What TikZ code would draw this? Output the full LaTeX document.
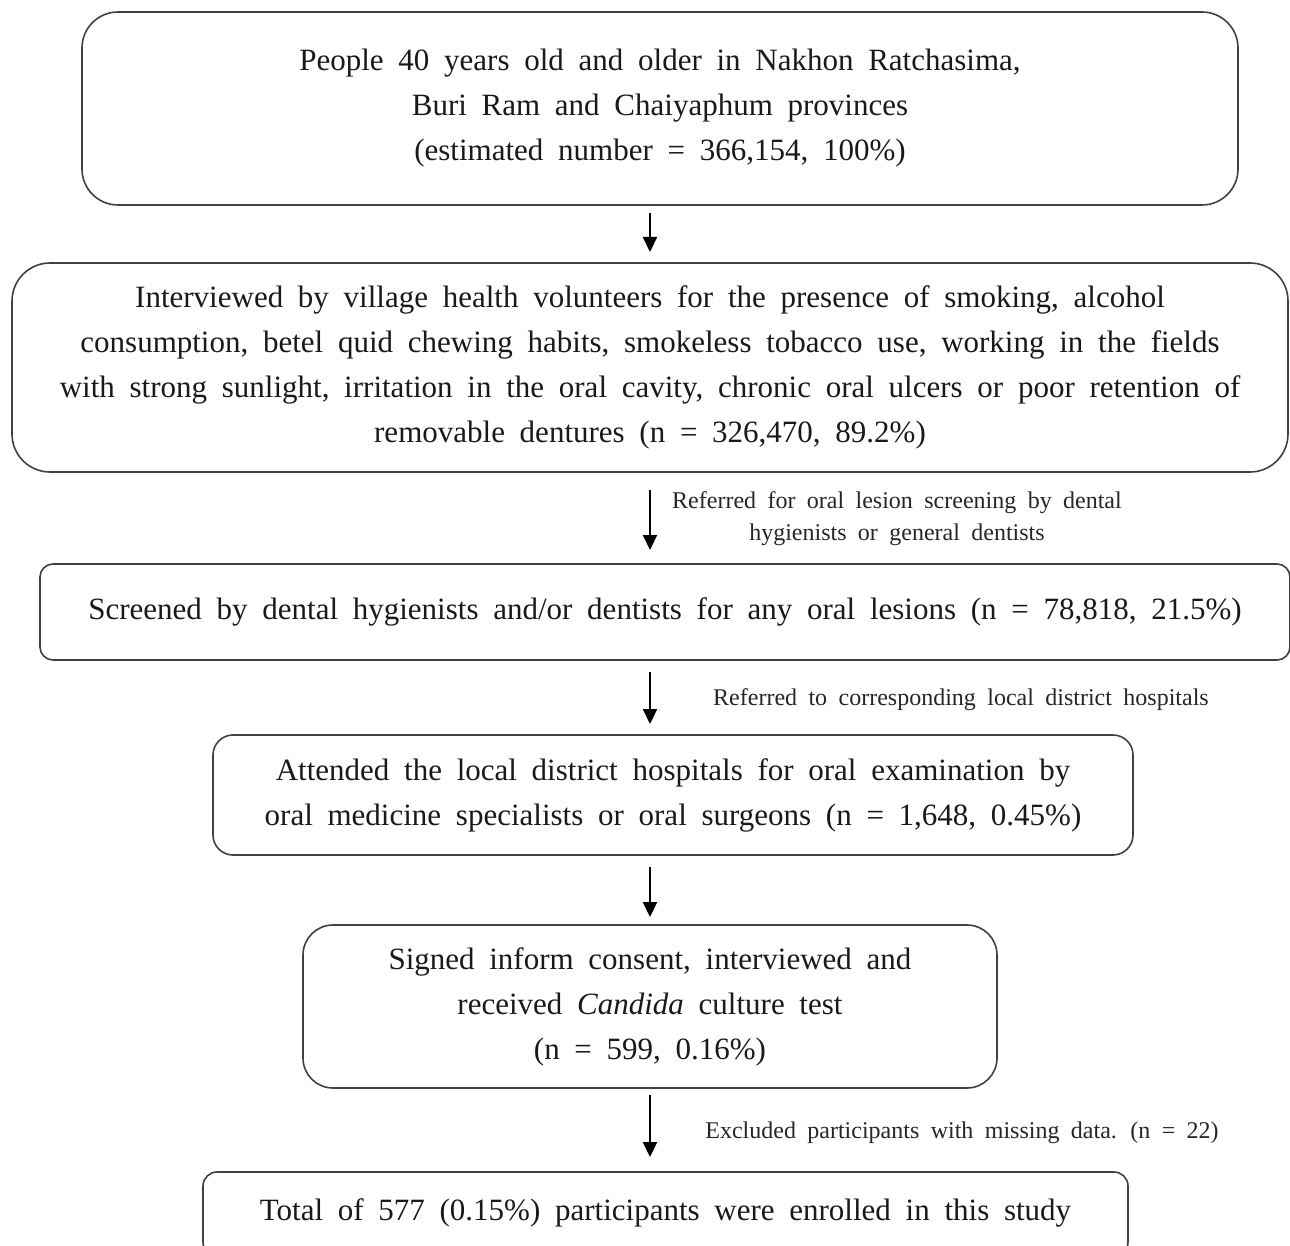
\documentclass[tikz,border=0pt]{standalone}
\usepackage{fontspec}
\setmainfont[WordSpace=1.9]{Liberation Serif}
\usetikzlibrary{arrows.meta}
\begin{document}
\begin{tikzpicture}[x=1pt,y=-1pt,
  box/.style={draw=black!75, line width=1.6pt, align=center, inner sep=0pt,
    font=\fontsize{31}{45}\selectfont, text=black!90},
  lbl/.style={align=center, inner sep=0pt, font=\fontsize{24}{32}\selectfont, text=black!85},
  arr/.style={line width=2.2pt, -{Triangle[length=15pt,width=14pt]}}]
\useasboundingbox (0,0) rectangle (1290,1246);
\node[box, rounded corners=36pt, minimum width=1156pt, minimum height=193pt] (b1) at (660,108.5)
  {People 40 years old and older in Nakhon Ratchasima,\\ Buri Ram and Chaiyaphum provinces\\ (estimated number = 366,154, 100\%)};
\node[box, rounded corners=38pt, minimum width=1276pt, minimum height=209pt] (b2) at (650,367.5)
  {Interviewed by village health volunteers for the presence of smoking, alcohol\\
   consumption, betel quid chewing habits, smokeless tobacco use, working in the fields\\
   with strong sunlight, irritation in the oral cavity, chronic oral ulcers or poor retention of\\
   removable dentures (n = 326,470, 89.2\%)};
\node[box, rounded corners=13pt, minimum width=1250pt, minimum height=96pt] (b3) at (665,612)
  {Screened by dental hygienists and/or dentists for any oral lesions (n = 78,818, 21.5\%)};
\node[box, rounded corners=20pt, minimum width=920pt, minimum height=120pt] (b4) at (673,795)
  {Attended the local district hospitals for oral examination by\\ oral medicine specialists or oral surgeons (n = 1,648, 0.45\%)};
\node[box, rounded corners=30pt, minimum width=694pt, minimum height=163pt] (b5) at (650,1006.5)
  {Signed inform consent, interviewed and\\ received \textit{Candida} culture test\\ (n = 599, 0.16\%)};
\node[box, rounded corners=14pt, minimum width=925pt, minimum height=84pt] (b6) at (665.5,1214)
  {\raisebox{8pt}{Total of 577 (0.15\%) participants were enrolled in this study}};

\coordinate (a1s) at (650,213); \coordinate (a1e) at (650,252);
\coordinate (a2s) at (650,490); \coordinate (a2e) at (650,550);
\coordinate (a3s) at (650,672); \coordinate (a3e) at (650,724);
\coordinate (a4s) at (650,867); \coordinate (a4e) at (650,917);
\coordinate (a5s) at (650,1095); \coordinate (a5e) at (650,1157);
\draw[arr] (a1s) -- (a1e);
\draw[arr] (a2s) -- (a2e);
\draw[arr] (a3s) -- (a3e);
\draw[arr] (a4s) -- (a4e);
\draw[arr] (a5s) -- (a5e);

\node[lbl] (l2) at (897,519) {Referred for oral lesion screening by dental\\ hygienists or general dentists};
\node[lbl] (l3) at (961,700) {Referred to corresponding local district hospitals};
\node[lbl] (l5) at (962,1133) {Excluded participants with missing data. (n = 22)};
\end{tikzpicture}
\end{document}
